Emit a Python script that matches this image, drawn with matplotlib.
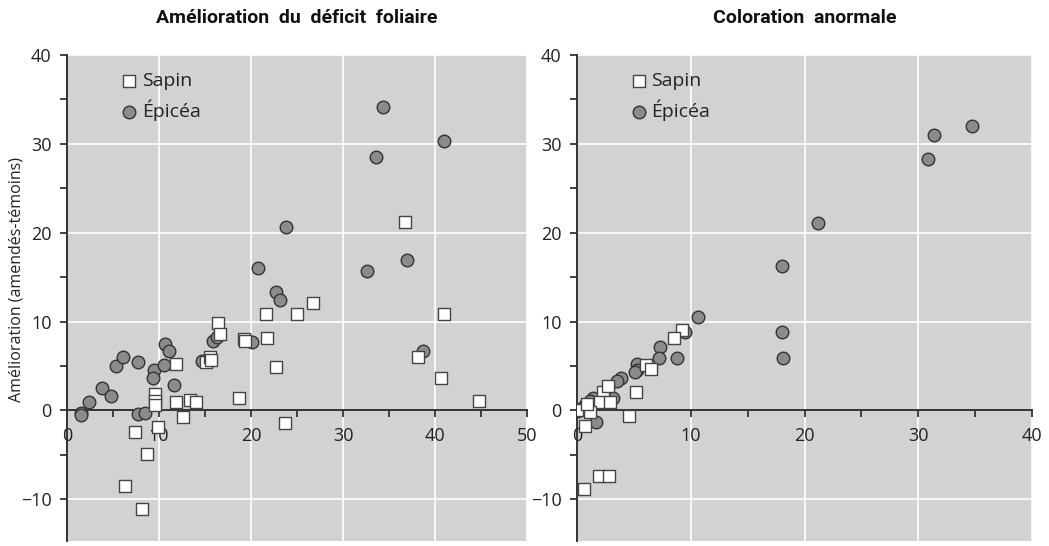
import numpy as np
import matplotlib.pyplot as plt
from matplotlib.ticker import MultipleLocator

# --- data ---
# left panel: Amélioration du déficit foliaire
sapin1_x = [9.6, 9.6, 9.6, 11.9, 11.9, 13.4, 14.0, 12.6, 9.9, 7.4, 8.7, 6.3, 8.1,
            15.1, 15.5, 15.6, 16.4, 16.6, 19.2, 19.3, 18.7, 21.6, 21.7, 22.7, 23.7,
            25.0, 26.7, 36.7, 41.0, 38.2, 40.7, 44.8]
sapin1_y = [1.8, 1.1, 0.6, 5.2, 0.9, 1.2, 1.0, -0.7, -1.9, -2.4, -4.9, -8.5, -11.1,
            5.4, 6.0, 5.7, 9.8, 8.6, 8.0, 7.8, 1.4, 10.9, 8.2, 4.9, -1.4,
            10.9, 12.1, 21.2, 10.9, 6.0, 3.6, 1.1]
epicea1_x = [1.5, 1.5, 2.4, 3.8, 4.8, 5.3, 6.1, 7.7, 7.7, 8.5, 9.5, 9.4, 10.5, 10.7,
             11.1, 11.6, 14.7, 15.9, 16.3, 20.1, 22.7, 23.2, 20.8, 23.8, 32.6, 33.6,
             34.3, 37.0, 38.7, 41.0]
epicea1_y = [-0.3, -0.5, 1.0, 2.5, 1.6, 5.0, 6.0, 5.5, -0.4, -0.3, 4.6, 3.6, 5.1, 7.5,
             6.7, 2.9, 5.6, 7.8, 8.3, 7.7, 13.3, 12.4, 16.0, 20.6, 15.7, 28.5,
             34.2, 16.9, 6.7, 30.3]

# right panel: Coloration anormale
sapin2_x = [9.2, 8.5, 6.1, 6.5, 5.2, 4.6, 0.7, 1.9, 2.8, 0.6, 2.3, 2.7, 2.0, 2.9,
            1.1, 0.0, 0.9]
sapin2_y = [9.1, 8.2, 5.1, 4.7, 2.1, -0.6, -1.8, -7.4, -7.4, -8.8, 2.1, 2.7, 1.0, 0.9,
            -0.2, 0.0, 0.7]
epicea2_x = [10.6, 9.5, 7.3, 7.2, 8.8, 5.3, 5.3, 5.1, 3.9, 3.5, 2.7, 2.6, 3.2, 2.3,
             1.4, 1.1, 0.7, 0.1, 0.3, 1.7, 18.0, 18.1, 21.2, 30.9, 31.4, 34.7, 18.0]
epicea2_y = [10.5, 8.8, 7.1, 5.9, 5.9, 5.2, 4.6, 4.3, 3.7, 3.3, 2.6, 2.2, 1.4, 1.8,
             1.4, 1.1, 0.6, -0.1, 0.2, -1.3, 8.8, 5.9, 21.1, 28.3, 31.0, 32.0, 16.2]

titles = ["Amélioration  du  déficit  foliaire", "Coloration  anormale"]
ylabel = "Amélioration (amendés-témoins)"

bg = "#d1d2d4"
dark = "#333333"
body_font = "Open Sans"

fig = plt.figure(figsize=(10.49, 5.46), dpi=100)
ax1 = fig.add_axes([67/1049, 5/546, 460/1049, 486/546])
ax2 = fig.add_axes([577/1049, 5/546, 455/1049, 486/546])

panels = [
    (ax1, sapin1_x, sapin1_y, epicea1_x, epicea1_y, 50),
    (ax2, sapin2_x, sapin2_y, epicea2_x, epicea2_y, 40),
]

for i, (ax, sx, sy, ex, ey, xmax) in enumerate(panels):
    ax.set_facecolor(bg)
    ax.set_xlim(0, xmax)
    ax.set_ylim(-14.7, 40)
    ax.grid(True, which='major', color='white', linewidth=1.2)
    ax.set_axisbelow(True)
    for s in ['top', 'right']:
        ax.spines[s].set_visible(False)
    ax.spines['left'].set_position(('data', 0))
    ax.spines['bottom'].set_position(('data', 0))
    for s in ['left', 'bottom']:
        ax.spines[s].set_color(dark)
        ax.spines[s].set_linewidth(1.4)
        ax.spines[s].set_zorder(1.5)
    ax.xaxis.set_major_locator(MultipleLocator(10))
    ax.xaxis.set_minor_locator(MultipleLocator(5))
    ax.yaxis.set_major_locator(MultipleLocator(10))
    ax.yaxis.set_minor_locator(MultipleLocator(5))
    ax.tick_params(which='both', direction='out', length=5, width=1.3, color=dark)
    ax.tick_params(axis='x', labelsize=13, pad=7, labelcolor='#222222')
    ax.tick_params(axis='y', labelsize=13, pad=6, labelcolor='#222222')
    for lab in ax.get_xticklabels() + ax.get_yticklabels():
        lab.set_fontfamily(body_font)

    ax.scatter(ex, ey, s=82, marker='o', facecolor='#8b8b8d', edgecolor=dark,
               linewidth=1.0, zorder=3, label='Épicéa')
    ax.scatter(sx, sy, s=72, marker='s', facecolor='white', edgecolor='#444444',
               linewidth=1.0, zorder=3, label='Sapin')

    h, l = ax.get_legend_handles_labels()
    leg = ax.legend(h[::-1], l[::-1], loc='upper left', bbox_to_anchor=(0.08, 0.992),
                    frameon=False, handletextpad=0.05, labelspacing=0.45,
                    borderaxespad=0.3, handlelength=1.2,
                    prop={'family': body_font, 'size': 14})
    for t in leg.get_texts():
        t.set_color('#222222')

    ax.set_title(titles[i], fontsize=14, fontweight='bold',
                 family='Roboto', pad=23, color='#111111')

fig.text(17/1049, 1 - 280/546, ylabel, rotation=90, ha='center', va='center',
         fontsize=11.5, family=body_font, color='#222222')

fig.savefig('out.png', dpi=100)
